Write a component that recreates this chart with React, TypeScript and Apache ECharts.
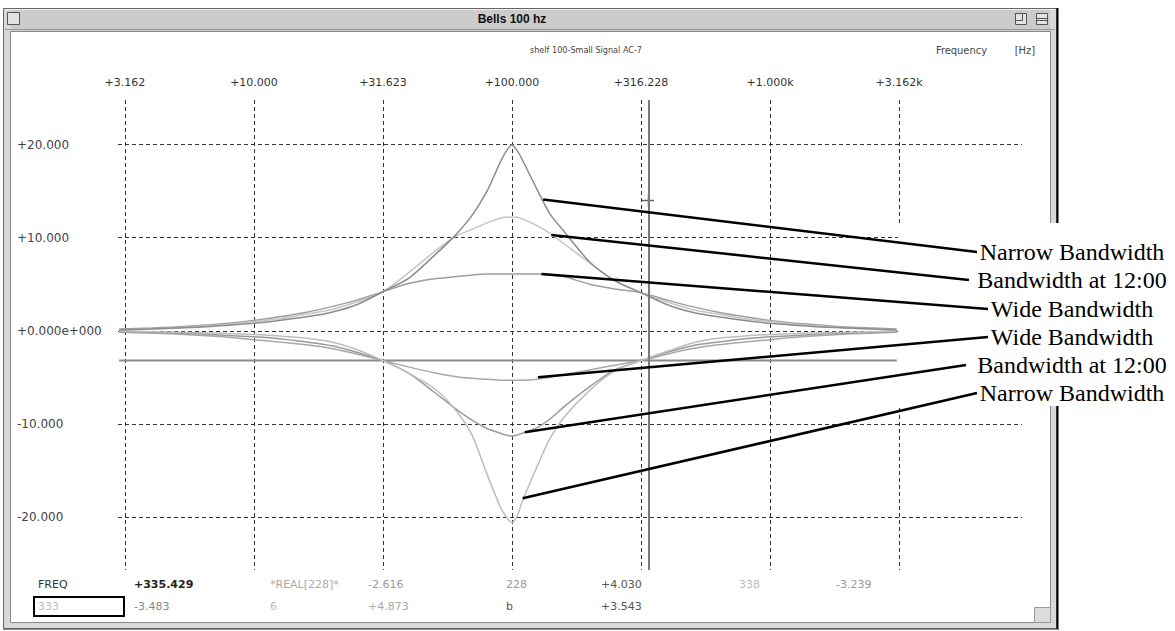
import React, { useEffect, useRef } from "react";
import * as echarts from "echarts";

// ---------- DATA ----------
const freqHz = [3, 4, 5, 6.3, 8, 10, 12.5, 16, 20, 25, 31.6, 40, 50, 60, 70, 80, 90, 95, 100, 105, 110, 125, 140, 160, 200, 250, 316, 400, 500, 630, 800, 1000, 1250, 1600, 2000, 2500, 3100];

const narrowBoost = [0.1, 0.2, 0.3, 0.4, 0.6, 0.8, 1.1, 1.5, 2.0, 2.8, 4.2, 5.7, 8.1, 10.2, 12.4, 15.0, 18.1, 19.3, 20.0, 19.3, 18.3, 15.2, 12.6, 10.6, 7.4, 5.4, 4.1, 2.8, 2.0, 1.5, 1.1, 0.8, 0.6, 0.4, 0.3, 0.2, 0.1];
const midBoost = [0.1, 0.2, 0.3, 0.5, 0.7, 1.0, 1.3, 1.8, 2.3, 3.1, 4.2, 6.3, 8.5, 10.1, 10.9, 11.6, 12.1, 12.2, 12.2, 12.2, 12.0, 11.3, 10.5, 9.3, 7.3, 5.4, 4.1, 3.1, 2.3, 1.8, 1.3, 1.0, 0.7, 0.5, 0.3, 0.2, 0.1];
const wideBoost = [0.2, 0.3, 0.4, 0.6, 0.8, 1.1, 1.5, 2.0, 2.6, 3.3, 4.2, 5.1, 5.6, 5.8, 6.0, 6.1, 6.1, 6.1, 6.1, 6.1, 6.1, 6.1, 6.0, 5.8, 5.0, 4.5, 4.1, 3.3, 2.6, 2.0, 1.5, 1.1, 0.8, 0.6, 0.4, 0.3, 0.2];
const wideCut = [-0.15, -0.25, -0.35, -0.5, -0.7, -0.95, -1.2, -1.5, -1.9, -2.5, -3.2, -3.9, -4.5, -4.9, -5.1, -5.2, -5.3, -5.3, -5.3, -5.3, -5.3, -5.2, -5.0, -4.7, -4.2, -3.7, -3.2, -2.5, -1.9, -1.5, -1.2, -0.95, -0.7, -0.5, -0.35, -0.25, -0.15];
const midCut = [-0.1, -0.15, -0.25, -0.35, -0.5, -0.65, -0.85, -1.2, -1.6, -2.3, -3.2, -4.6, -6.6, -8.3, -9.6, -10.5, -11.0, -11.2, -11.3, -11.2, -11.0, -10.4, -9.5, -8.1, -6.0, -4.2, -3.2, -2.3, -1.6, -1.2, -0.85, -0.65, -0.5, -0.35, -0.25, -0.15, -0.1];
const narrowCut = [-0.05, -0.1, -0.15, -0.2, -0.3, -0.4, -0.55, -0.8, -1.2, -2.0, -3.2, -4.6, -6.2, -8.4, -11.2, -15.4, -18.9, -20.0, -20.6, -19.8, -18.2, -14.6, -11.6, -9.2, -6.4, -4.3, -3.2, -2.2, -1.3, -0.8, -0.55, -0.4, -0.3, -0.2, -0.15, -0.1, -0.05];

const refLevel = -3.2;
const refSpanHz = [3, 3100];
const cursorFreq = 335.429;

const xTickHz = [3.162, 10, 31.623, 100, 316.228, 1000, 3162];
const xTickLabels = ["+3.162", "+10.000", "+31.623", "+100.000", "+316.228", "+1.000k", "+3.162k"];
const yTickValues = [-20, -10, 0, 10, 20];
const yTickLabels = ["-20.000", "-10.000", "+0.000e+000", "+10.000", "+20.000"];

const annotationLabels = ["Narrow Bandwidth", "Bandwidth at 12:00", "Wide Bandwidth", "Wide Bandwidth", "Bandwidth at 12:00", "Narrow Bandwidth"];
// anchor points on the curves: [Hz, dB]
const annotationAnchors = [[132, 14.1], [142, 10.3], [130, 6.1], [126, -5.0], [112, -10.9], [110, -18.0]];

const readoutRow1 = ["FREQ", "+335.429", "*REAL[228]*", "-2.616", "228", "+4.030", "338", "-3.239"];
const readoutRow2 = ["333", "-3.483", "6", "+4.873", "b", "+3.543"];

const windowTitle = "Bells 100 hz";
const subTitle = "shelf 100-Small Signal AC-7";
const unitsWord = "Frequency";
const unitsBracket = "[Hz]";

// ---------- LAYOUT / STYLE ----------
const W = 1175;
const H = 631;
const X_MIN = 0.4729;
const X_MAX = 3.9767;
const Y_MIN = -25.7;
const Y_MAX = 24.8;
const labelRowsY = [252, 280, 309, 337, 365, 393];
const lineEnds = [977, 969, 988, 988, 966, 977];
const row1X = [38, 134, 270, 368, 506, 601, 739, 836];
const row1Colors = ["#333", "#222", "#aaa", "#999", "#999", "#555", "#bbb", "#999"];
const row2X = [38, 134, 270, 368, 506, 601];
const row2Colors = ["#bbb", "#888", "#bbb", "#aaa", "#555", "#555"];

const SANS = '"DejaVu Sans", sans-serif';

export default function App() {
  const ref = useRef<HTMLDivElement>(null);
  useEffect(() => {
    const el = ref.current!;
    const chart = echarts.init(el, null, { renderer: "svg" });
    const lx = (f: number) => Math.log10(f);
    const pts = (arr: number[]) => freqHz.map((f, i) => [lx(f), arr[i]]);
    const line = (name: string, arr: number[], color: string, width = 1.5) => ({
      type: "line",
      name,
      data: pts(arr),
      symbol: "none",
      showSymbol: false,
      smooth: 0.25,
      silent: true,
      lineStyle: { color, width },
      z: 3,
    });
    const nearestLabel = (v: number, vals: number[], labels: string[]) => {
      let best = 0;
      let bd = Infinity;
      vals.forEach((t, i) => {
        const d = Math.abs(t - v);
        if (d < bd) {
          bd = d;
          best = i;
        }
      });
      return bd < 0.01 ? labels[best] : "";
    };
    const xTickVals = xTickHz.map(lx);

    const option: any = {
      animation: false,
      backgroundColor: "#ffffff",
      grid: { left: 118, right: W - 1022, top: 100, bottom: H - 570, containLabel: false, outerBoundsMode: "none" },
      xAxis: {
        type: "value",
        position: "top",
        min: X_MIN,
        max: X_MAX,
        axisLine: { show: false },
        axisTick: { show: false, customValues: xTickVals },
        axisLabel: {
          customValues: xTickVals,
          margin: 12,
          color: "#333",
          fontSize: 11,
          fontFamily: SANS,
          formatter: (v: number) => nearestLabel(v, xTickVals, xTickLabels),
        },
        splitLine: { show: true, lineStyle: { color: "#333", width: 1, type: [4, 3] } },
      },
      yAxis: {
        type: "value",
        min: Y_MIN,
        max: Y_MAX,
        axisLine: { show: false },
        axisTick: { show: false, customValues: yTickValues },
        axisLabel: {
          customValues: yTickValues,
          align: "left",
          margin: 101,
          color: "#444",
          fontSize: 12,
          fontFamily: SANS,
          formatter: (v: number) => nearestLabel(v, yTickValues, yTickLabels),
        },
        splitLine: { show: true, lineStyle: { color: "#333", width: 1, type: [4, 3] } },
      },
      series: [
        {
          type: "line",
          name: "ref",
          data: refSpanHz.map((f) => [lx(f), refLevel]),
          symbol: "none",
          silent: true,
          lineStyle: { color: "#8a8a8a", width: 2 },
          z: 2,
          markLine: {
            silent: true,
            symbol: ["none", "none"],
            label: { show: false },
            lineStyle: { type: "solid", color: "#7a7a7a", width: 2 },
            data: [{ xAxis: lx(cursorFreq) }],
          },
        },
        line("Wide cut", wideCut, "#a8a8a8"),
        line("12:00 cut", midCut, "#9a9a9a"),
        line("Narrow cut", narrowCut, "#bdbdbd"),
        line("Wide boost", wideBoost, "#9e9e9e"),
        line("12:00 boost", midBoost, "#c4c4c4"),
        line("Narrow boost", narrowBoost, "#8c8c8c"),
      ],
    };
    chart.setOption(option);

    const txt = (x: number, y: number, text: string, font: string, fill: string, align = "left", z = 0) => ({
      type: "text", x, y, z, silent: true,
      style: { text, font, fill, align, verticalAlign: "middle", textAlign: align, textVerticalAlign: "middle" },
    });

    const g: any[] = [];
    // window frame bands (outside plot area)
    g.push({ type: "rect", shape: { x: 3, y: 8, width: 1054, height: 24 }, style: { fill: "#cbcbcb" }, silent: true });
    g.push({ type: "rect", shape: { x: 3, y: 8, width: 8, height: 621 }, style: { fill: "#d8d8d8" }, silent: true });
    g.push({ type: "rect", shape: { x: 1050, y: 8, width: 7, height: 621 }, style: { fill: "#d8d8d8" }, silent: true });
    g.push({ type: "rect", shape: { x: 3, y: 622, width: 1054, height: 7 }, style: { fill: "#d8d8d8" }, silent: true });
    g.push({ type: "rect", shape: { x: 3.5, y: 8.5, width: 1053, height: 620 }, style: { fill: "none", stroke: "#666", lineWidth: 1 }, silent: true });
    g.push({ type: "rect", shape: { x: 10.5, y: 31.5, width: 1040, height: 591 }, style: { fill: "none", stroke: "#8a8a8a", lineWidth: 1 }, silent: true });
    g.push({ type: "line", shape: { x1: 5, y1: 9.5, x2: 1055, y2: 9.5 }, style: { stroke: "#eee", lineWidth: 1 }, silent: true });
    g.push({ type: "line", shape: { x1: 5, y1: 29.5, x2: 1055, y2: 29.5 }, style: { stroke: "#999", lineWidth: 1 }, silent: true });
    g.push({ type: "line", shape: { x1: 1057.5, y1: 8, x2: 1057.5, y2: 630 }, style: { stroke: "#000", lineWidth: 2 }, silent: true });
    g.push({ type: "line", shape: { x1: 3, y1: 629.5, x2: 1058, y2: 629.5 }, style: { stroke: "#888", lineWidth: 1 }, silent: true });
    // close box
    g.push({ type: "rect", shape: { x: 7.5, y: 12.5, width: 12, height: 12 }, style: { fill: "#e2e2e2", stroke: "#555", lineWidth: 1 }, silent: true });
    // zoom / collapse boxes
    g.push({ type: "rect", shape: { x: 1015.5, y: 13.5, width: 11, height: 11 }, style: { fill: "#e2e2e2", stroke: "#555", lineWidth: 1 }, silent: true });
    g.push({ type: "rect", shape: { x: 1015.5, y: 13.5, width: 7, height: 7 }, style: { fill: "none", stroke: "#555", lineWidth: 1 }, silent: true });
    g.push({ type: "rect", shape: { x: 1036.5, y: 13.5, width: 11, height: 11 }, style: { fill: "#e2e2e2", stroke: "#555", lineWidth: 1 }, silent: true });
    g.push({ type: "line", shape: { x1: 1037, y1: 18.5, x2: 1047, y2: 18.5 }, style: { stroke: "#555", lineWidth: 1 }, silent: true });
    g.push({ type: "line", shape: { x1: 1037, y1: 20.5, x2: 1047, y2: 20.5 }, style: { stroke: "#555", lineWidth: 1 }, silent: true });
    // title + header texts
    g.push(txt(512, 19, windowTitle, 'bold 12px "Liberation Sans", Arial, sans-serif', "#111", "center"));
    g.push(txt(530, 50, subTitle, '9px "DejaVu Sans Condensed", "DejaVu Sans", sans-serif', "#444", "left"));
    g.push(txt(936, 50, unitsWord, '11px "DejaVu Sans Condensed", "DejaVu Sans", sans-serif', "#444", "left"));
    g.push(txt(1035, 50, unitsBracket, '11px "DejaVu Sans Condensed", "DejaVu Sans", sans-serif', "#444", "right"));
    // resize box
    g.push({ type: "rect", shape: { x: 1034.5, y: 607.5, width: 16, height: 15 }, style: { fill: "#dcdcdc", stroke: "#999", lineWidth: 1 }, silent: true });
    // readouts
    readoutRow1.forEach((t, i) => {
      g.push(txt(row1X[i], 584, t, (i === 1 ? "bold " : "") + '11px "DejaVu Sans", sans-serif', row1Colors[i], "left"));
    });
    g.push({ type: "rect", shape: { x: 34, y: 597, width: 90, height: 19 }, style: { fill: "none", stroke: "#000", lineWidth: 2 }, silent: true });
    readoutRow2.forEach((t, i) => {
      g.push(txt(row2X[i], 606, t, '11px "DejaVu Sans", sans-serif', row2Colors[i], "left"));
    });
    // mouse pointer cross
    g.push({ type: "line", shape: { x1: 642, y1: 200.5, x2: 654, y2: 200.5 }, style: { stroke: "#666", lineWidth: 1.5 }, silent: true });
    g.push({ type: "line", shape: { x1: 648.5, y1: 194, x2: 648.5, y2: 207 }, style: { stroke: "#666", lineWidth: 1.5 }, silent: true });

    // annotation overlay (white box over the right side)
    g.push({ type: "rect", z: 50, shape: { x: 898, y: 223, width: W - 898, height: 183 }, style: { fill: "#ffffff" }, silent: true });
    annotationAnchors.forEach((a, i) => {
      const p = chart.convertToPixel({ xAxisIndex: 0, yAxisIndex: 0 }, [lx(a[0]), a[1]]) as number[];
      g.push({
        type: "line", z: 51, silent: true,
        shape: { x1: p[0], y1: p[1], x2: lineEnds[i], y2: labelRowsY[i] },
        style: { stroke: "#000", lineWidth: 2.5 },
      });
      g.push(txt(1072, labelRowsY[i], annotationLabels[i], '24px "Liberation Serif", "Times New Roman", serif', "#000", "center", 52));
    });

    chart.setOption({ graphic: g });
    return () => chart.dispose();
  }, []);

  return <div ref={ref} style={{ position: "fixed", left: 0, top: 0, width: W, height: H, background: "#fff" }} />;
}
